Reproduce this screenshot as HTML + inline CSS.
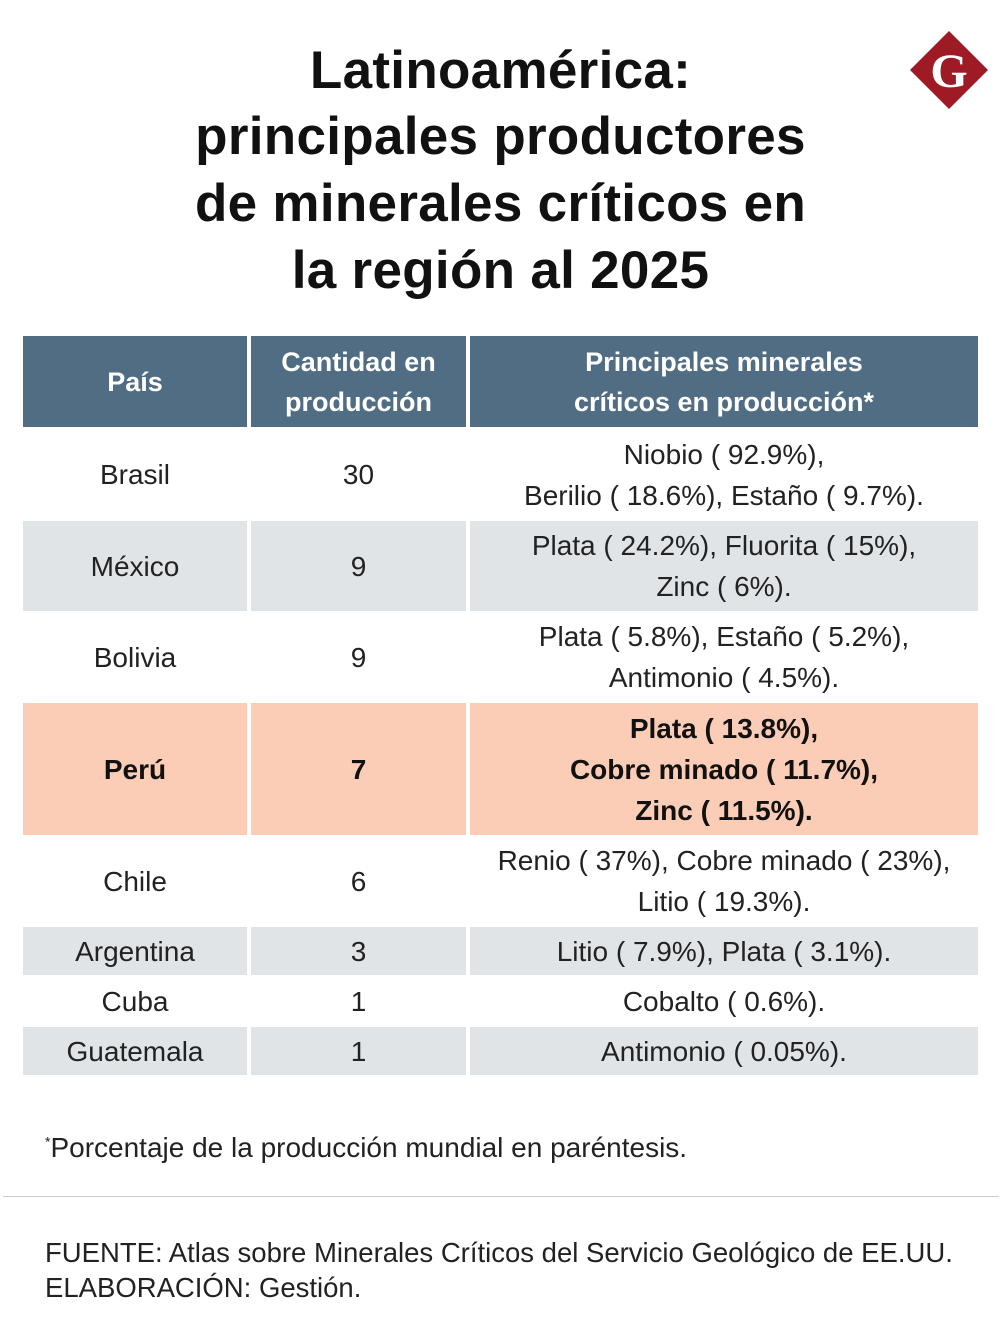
<!DOCTYPE html>
<html><head><meta charset="utf-8"><style>
body{margin:0;width:1001px;height:1342px;background:#fff;position:relative;font-family:"Liberation Sans",sans-serif;overflow:hidden}
.t{position:absolute;left:0;width:1001px;text-align:center;font-weight:bold;font-size:53px;color:#111;letter-spacing:0.3px}
.c{position:absolute;display:flex;align-items:center;justify-content:center;text-align:center;font-size:28px;color:#222;line-height:41px}
.h{background:#506d84;color:#fff;font-weight:bold;font-size:27px;line-height:40px}
.g{background:#e0e4e7}
.p{background:#fccdb6;font-weight:bold;color:#111}
</style></head><body>
<div class="t" style="top:40px">Latinoamérica:</div>
<div class="t" style="top:106px">principales productores</div>
<div class="t" style="top:173px">de minerales críticos en</div>
<div class="t" style="top:240px">la región al 2025</div>
<svg style="position:absolute;left:909px;top:30px" width="80" height="80"><polygon points="40,1 79,40 40,79 1,40" fill="#9e1b26"/><text x="40" y="57" text-anchor="middle" font-family="Liberation Serif" font-weight="bold" font-size="48" fill="#fff">G</text></svg>

<div class="c h" style="left:23px;top:336px;width:224px;height:91px">País</div>
<div class="c h" style="left:251px;top:336px;width:215px;height:91px">Cantidad en<br>producción</div>
<div class="c h" style="left:470px;top:336px;width:508px;height:91px">Principales minerales<br>críticos en producción*</div>

<div class="c" style="left:23px;top:431px;width:224px;height:87px">Brasil</div>
<div class="c" style="left:251px;top:431px;width:215px;height:87px">30</div>
<div class="c" style="left:470px;top:431px;width:508px;height:87px">Niobio ( 92.9%),<br>Berilio ( 18.6%), Estaño ( 9.7%).</div>

<div class="c g" style="left:23px;top:521px;width:224px;height:90px">México</div>
<div class="c g" style="left:251px;top:521px;width:215px;height:90px">9</div>
<div class="c g" style="left:470px;top:521px;width:508px;height:90px">Plata ( 24.2%), Fluorita ( 15%),<br>Zinc ( 6%).</div>

<div class="c" style="left:23px;top:614px;width:224px;height:86px">Bolivia</div>
<div class="c" style="left:251px;top:614px;width:215px;height:86px">9</div>
<div class="c" style="left:470px;top:614px;width:508px;height:86px">Plata ( 5.8%), Estaño ( 5.2%),<br>Antimonio ( 4.5%).</div>

<div class="c p" style="left:23px;top:703px;width:224px;height:132px">Perú</div>
<div class="c p" style="left:251px;top:703px;width:215px;height:132px">7</div>
<div class="c p" style="left:470px;top:703px;width:508px;height:132px">Plata ( 13.8%),<br>Cobre minado ( 11.7%),<br>Zinc ( 11.5%).</div>

<div class="c" style="left:23px;top:838px;width:224px;height:86px">Chile</div>
<div class="c" style="left:251px;top:838px;width:215px;height:86px">6</div>
<div class="c" style="left:470px;top:838px;width:508px;height:86px">Renio ( 37%), Cobre minado ( 23%),<br>Litio ( 19.3%).</div>

<div class="c g" style="left:23px;top:927px;width:224px;height:48px">Argentina</div>
<div class="c g" style="left:251px;top:927px;width:215px;height:48px">3</div>
<div class="c g" style="left:470px;top:927px;width:508px;height:48px">Litio ( 7.9%), Plata ( 3.1%).</div>

<div class="c" style="left:23px;top:978px;width:224px;height:46px">Cuba</div>
<div class="c" style="left:251px;top:978px;width:215px;height:46px">1</div>
<div class="c" style="left:470px;top:978px;width:508px;height:46px">Cobalto ( 0.6%).</div>

<div class="c g" style="left:23px;top:1027px;width:224px;height:48px">Guatemala</div>
<div class="c g" style="left:251px;top:1027px;width:215px;height:48px">1</div>
<div class="c g" style="left:470px;top:1027px;width:508px;height:48px">Antimonio ( 0.05%).</div>

<div style="position:absolute;left:45px;top:1132px;font-size:28px;color:#222"><sup style="font-size:14px">*</sup>Porcentaje de la producción mundial en paréntesis.</div>
<div style="position:absolute;left:3px;top:1196px;width:996px;height:1px;background:#ccc"></div>
<div style="position:absolute;left:45px;top:1235px;font-size:27.5px;color:#222;line-height:35px">FUENTE: Atlas sobre Minerales Críticos del Servicio Geológico de EE.UU.<br>ELABORACIÓN: Gestión.</div>
</body></html>
